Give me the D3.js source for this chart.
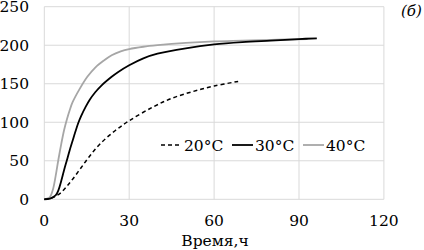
<!DOCTYPE html>
<html>
<head>
<meta charset="utf-8">
<script src="https://cdn.jsdelivr.net/npm/d3@7"></script>
<style>
	body { margin: 0; background: #fff; }
	svg text { font-family: "DejaVu Serif", serif; fill: #000; }
</style>
</head>
<body>
<svg id="chart" width="424" height="250"></svg>
<script>
// values (time in h, value)
let t20 = [0, 2, 4, 6, 8, 10, 13, 16, 20, 25, 30, 38.5, 45, 52.6, 60, 68.5];
let v20 = [0, 1, 4, 9, 17, 26, 41, 56, 73, 89, 102, 120, 131, 140, 147, 153];

let t30 = [0, 2, 4, 5, 6, 7, 8, 9, 10, 11, 12, 13, 14.6, 16, 18, 20, 23.8, 26, 30, 35, 40, 50, 60, 70, 80, 90, 96.3];
let v30 = [0, 1, 5, 12, 24, 38, 51, 64, 76, 88, 99, 108, 120, 129, 139, 147, 159, 165, 174, 183, 189, 196, 201, 204, 206, 208, 209];

let t40 = [0, 1, 2, 3, 4, 5, 6, 7, 8, 9, 10, 12.3, 15.2, 18, 21, 23.8, 27, 30, 35, 40, 50, 60, 70, 80, 93];
let v40 = [0, 1, 3, 12, 30, 52, 72, 90, 104, 116, 126, 142, 159, 171, 180, 187, 192, 195, 198, 200, 203, 205, 206, 207, 208];

let xTicks = [0, 30, 60, 90, 120];
let yTicks = [0, 50, 100, 150, 200, 250];
let seriesNames = ["20°C", "30°C", "40°C"];

function drawChart(holder){
	let margin = {"left": 44.3, "top": 6.7, "bottom": 50.7, "right": 40};
	let width = 424;
	let height = 250;
	let fs = 15.5;

	let scaleX = d3.scaleLinear()
		.domain([0, 120])
		.range([margin.left, 383.9]);
	let scaleY = d3.scaleLinear()
		.domain([0, 250])
		.range([height - margin.bottom, margin.top]);

	let svg = d3.select(holder);

	// grid
	svg.append("g").selectAll("line.gy")
		.data(yTicks)
		.join("line")
		.attr("x1", scaleX(0)).attr("x2", scaleX(120))
		.attr("y1", d => scaleY(d)).attr("y2", d => scaleY(d))
		.attr("stroke", "#d9d9d9")
		.attr("stroke-width", 1);
	svg.append("g").selectAll("line.gx")
		.data(xTicks)
		.join("line")
		.attr("x1", d => scaleX(d)).attr("x2", d => scaleX(d))
		.attr("y1", scaleY(0)).attr("y2", scaleY(250))
		.attr("stroke", "#d9d9d9")
		.attr("stroke-width", 1);

	// tick labels
	svg.append("g").selectAll("text")
		.data(yTicks)
		.join("text")
		.attr("x", 29)
		.attr("y", d => scaleY(d))
		.attr("dy", "0.36em")
		.attr("text-anchor", "end")
		.attr("font-size", fs)
		.text(d => d);
	svg.append("g").selectAll("text")
		.data(xTicks)
		.join("text")
		.attr("x", d => scaleX(d))
		.attr("y", 226)
		.attr("text-anchor", "middle")
		.attr("font-size", fs)
		.text(d => d);

	svg.append("text")
		.attr("x", 215)
		.attr("y", 246)
		.attr("text-anchor", "middle")
		.attr("font-size", fs)
		.text("Время,ч");

	svg.append("text")
		.attr("x", 401)
		.attr("y", 16)
		.attr("font-size", 15)
		.attr("font-style", "italic")
		.text("(б)");

	let line = d3.line()
		.x(d => scaleX(d[0]))
		.y(d => scaleY(d[1]))
		.curve(d3.curveCatmullRom.alpha(0.5));

	let series = [
		{name: seriesNames[0], pts: d3.zip(t20, v20), color: "#000", dash: "4,3", w: 1.5},
		{name: seriesNames[1], pts: d3.zip(t30, v30), color: "#000", dash: null, w: 1.8},
		{name: seriesNames[2], pts: d3.zip(t40, v40), color: "#a6a6a6", dash: null, w: 1.8}
	];

	svg.append("g").selectAll("path")
		.data(series.slice().reverse())
		.join("path")
		.attr("d", d => line(d.pts))
		.attr("fill", "none")
		.attr("stroke", d => d.color)
		.attr("stroke-width", d => d.w)
		.attr("stroke-dasharray", d => d.dash);

	// legend
	let legX = [161, 232, 303];
	let legend = svg.append("g").selectAll("g")
		.data(series)
		.join("g")
		.attr("transform", (d, i) => "translate(" + legX[i] + ",145)");
	legend.append("line")
		.attr("x1", 0).attr("x2", 21)
		.attr("y1", 0).attr("y2", 0)
		.attr("stroke", d => d.color)
		.attr("stroke-width", d => d.w)
		.attr("stroke-dasharray", d => d.dash);
	legend.append("text")
		.attr("x", 23)
		.attr("y", 0)
		.attr("dy", "0.36em")
		.attr("font-size", fs)
		.text(d => d.name);
}

drawChart("#chart");
</script>
</body>
</html>
